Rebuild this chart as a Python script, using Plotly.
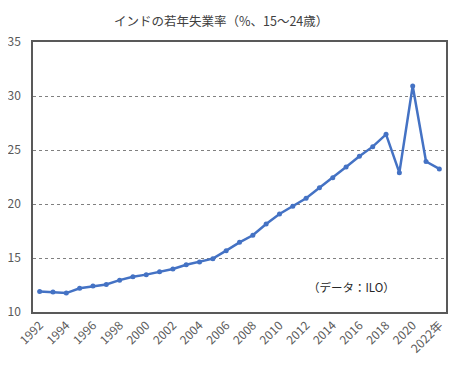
import plotly.graph_objects as go

years = list(range(1992, 2023))
rates = [11.9, 11.85, 11.75, 12.2, 12.4, 12.55, 12.95, 13.27, 13.46, 13.73,
         13.98, 14.38, 14.63, 14.94, 15.68, 16.45, 17.1, 18.15, 19.07, 19.79,
         20.53, 21.5, 22.44, 23.43, 24.42, 25.31, 26.45, 22.9, 30.93, 23.93, 23.25]
tick_years = list(range(1992, 2023, 2))
tick_labels = [str(y) for y in tick_years[:-1]] + ["2022年"]
y_ticks = [10, 15, 20, 25, 30, 35]

title_text = "インドの若年失業率（%、15～24歳）"
source_text = "（データ：ILO）"

font_family = "Noto Sans CJK JP, Noto Sans, sans-serif"

# the page body has an 8px margin; compensate so the plot lands where the reference has it
OFF = 8
W, H = 474, 371
L, R, T, B = 33 - OFF, 28 + OFF, 42 - OFF, 59 + OFF
plot_w = W - L - R
plot_h = H - T - B

fig = go.Figure()
fig.add_trace(go.Scatter(
    x=years, y=rates, mode="lines+markers",
    line=dict(color="#4472C4", width=2.5),
    marker=dict(color="#4472C4", size=5),
    showlegend=False,
))

fig.update_layout(
    width=W, height=H,
    margin=dict(l=L, r=R, t=T, b=B),
    paper_bgcolor="white", plot_bgcolor="white",
    font=dict(family=font_family, color="#595959", size=12),
    xaxis=dict(
        range=[1991.5, 2022.5], tickvals=tick_years, ticktext=tick_labels,
        tickangle=-45, showgrid=False, zeroline=False, automargin=False,
        showline=True, linecolor="#595959", linewidth=1.5, mirror=True,
        ticks="", tickfont=dict(size=12, color="#595959"),
    ),
    yaxis=dict(
        range=[10, 35], tickvals=y_ticks, showgrid=True, automargin=False,
        gridcolor="#808080", griddash="dot", gridwidth=1, zeroline=False,
        showline=True, linecolor="#595959", linewidth=1.5, mirror=True,
        ticks="", ticklabelstandoff=8, tickfont=dict(size=12, color="#595959"),
    ),
    annotations=[
        dict(text=title_text, x=(221 - OFF - L) / plot_w,
             y=(H - B - (20 - OFF)) / plot_h,
             xref="paper", yref="paper", xanchor="center", yanchor="middle",
             showarrow=False, font=dict(size=12.5, color="#404040")),
        dict(text=source_text, x=(351 - OFF - L) / plot_w, y=12.3,
             xref="paper", yref="y", xanchor="center", yanchor="middle",
             showarrow=False, font=dict(size=11.5, color="#262626")),
    ],
)

fig.write_html("out.html")
